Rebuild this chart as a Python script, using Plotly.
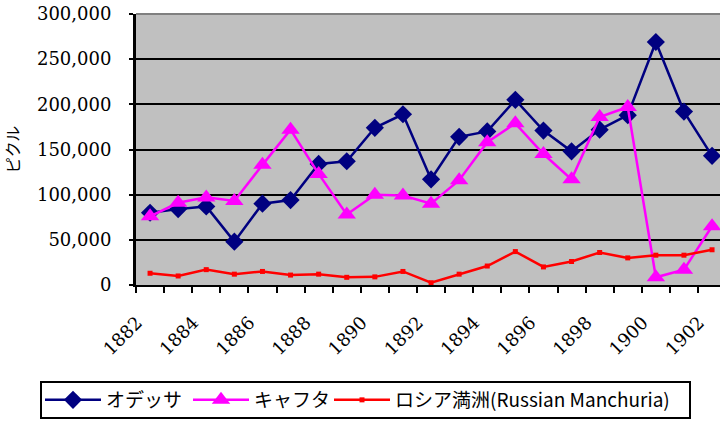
import plotly.graph_objects as go

years = list(range(1882, 1903))
odessa = [80000, 84000, 87000, 48000, 90000, 94000, 134000, 137000, 174000, 189000, 117000,
          164000, 170000, 205000, 171000, 148000, 172000, 188000, 269000, 192000, 143000]
kyakhta = [76000, 91000, 97000, 93000, 133000, 172000, 123000, 78000, 100000, 99000, 90000,
           116000, 158000, 179000, 145000, 117000, 186000, 197000, 8500, 17000, 65000]
manchuria = [13000, 10000, 17000, 12000, 15000, 11000, 12000, 8500, 9000, 15000, 2500,
             12000, 21000, 37000, 20000, 26000, 36000, 30000, 33000, 33000, 39000]
series_names = ["オデッサ", "キャフタ", "ロシア満洲(Russian Manchuria)"]
x_tick_labels = [str(y) for y in years[::2]]
y_tick_values = [0, 50000, 100000, 150000, 200000, 250000, 300000]
y_tick_labels = ["0", "50,000", "100,000", "150,000", "200,000", "250,000", "300,000"]
y_title = "ピクル"

W, H = 720, 421
L, T, B = 136, 14, 136
PW, PH = W - L, H - T - B
LEGEND_FONT = dict(family="Noto Sans CJK JP", size=19, color="black")
SERIF = "DejaVu Serif, Liberation Serif, serif"

fig = go.Figure()
fig.add_trace(go.Scatter(x=years, y=odessa, name=series_names[0], mode="lines+markers",
                         line=dict(color="#000080", width=2.5), legend="legend",
                         marker=dict(symbol="diamond", size=14, color="#000080")))
fig.add_trace(go.Scatter(x=years, y=kyakhta, name=series_names[1], mode="lines+markers",
                         line=dict(color="#FF00FF", width=2.5), legend="legend2",
                         marker=dict(symbol="triangle-up", size=16, color="#FF00FF")))
fig.add_trace(go.Scatter(x=years, y=manchuria, name=series_names[2], mode="lines+markers",
                         line=dict(color="#FF0000", width=2.5), legend="legend3",
                         marker=dict(symbol="square", size=5, color="#FF0000")))

boundaries = [y - 0.5 for y in years] + [years[-1] + 0.5]

def leg(xpx):
    return dict(orientation="h", xref="container", yref="container",
                x=xpx / W, xanchor="left", y=1 - 400 / H, yanchor="middle",
                bgcolor="rgba(0,0,0,0)", borderwidth=0, font=LEGEND_FONT,
                itemwidth=56)

fig.update_layout(
    width=W, height=H,
    margin=dict(l=L, r=0, t=T, b=B),
    paper_bgcolor="white",
    plot_bgcolor="#C0C0C0",
    showlegend=True,
    legend=leg(40), legend2=leg(188), legend3=leg(329),
    xaxis=dict(range=[years[0] - 0.5, years[0] - 0.5 + PW / 28.1],
               tickmode="array", tickvals=years[::2], ticktext=x_tick_labels,
               tickangle=-45, ticks="", showgrid=False, automargin=False,
               ticklabelstandoff=18, ticklabelshift=-13, ticklabeloverflow="allow",
               tickfont=dict(family=SERIF, size=18, color="black"),
               showline=True, linecolor="black", linewidth=2,
               minor=dict(tickmode="array", tickvals=boundaries, ticks="outside",
                          ticklen=6, tickwidth=1.5, tickcolor="black", showgrid=False),
               zeroline=False, fixedrange=True),
    yaxis=dict(range=[0, 300000], tickmode="array", tickvals=y_tick_values,
               ticktext=y_tick_labels, ticks="outside", ticklen=4, tickwidth=2,
               tickcolor="black", ticklabelstandoff=14, automargin=False,
               ticklabeloverflow="allow",
               tickfont=dict(family=SERIF, size=18, color="black"),
               showgrid=True, gridcolor="black", gridwidth=2,
               showline=True, linecolor="black", linewidth=3,
               zeroline=False,
               title=dict(text=y_title, standoff=25,
                          font=dict(family="Noto Sans CJK JP", size=16, color="black"))),
)
# gray top frame of plot area
fig.add_shape(type="line", xref="paper", yref="paper", x0=0, x1=1, y0=1, y1=1,
              line=dict(color="#808080", width=2), layer="above")
# legend frame
fig.add_shape(type="rect", xref="paper", yref="paper",
              x0=(41 - L) / PW, x1=(690 - L) / PW,
              y0=-(382 - (T + PH)) / PH, y1=-(418 - (T + PH)) / PH,
              line=dict(color="black", width=2), fillcolor="rgba(0,0,0,0)", layer="above")

fig.write_html("out.html",
               config={"displayModeBar": False},
               post_script="document.body.style.margin='0';document.body.style.padding='0';")
